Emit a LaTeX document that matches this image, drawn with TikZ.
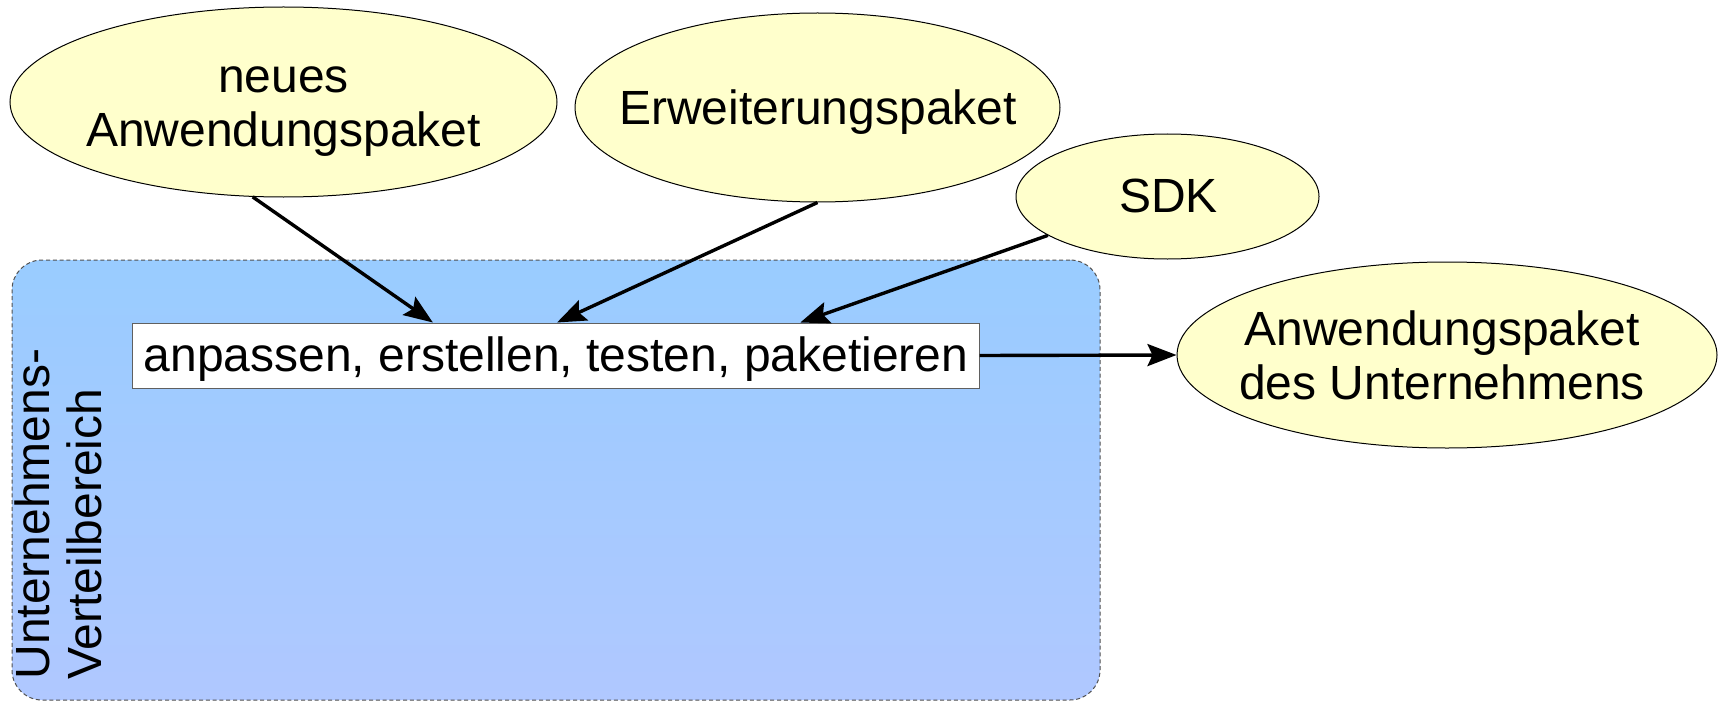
\documentclass[tikz,border=0pt]{standalone}
\usepackage{fontspec}
\setmainfont{Liberation Sans}
\usetikzlibrary{shapes.geometric,arrows.meta,calc}

\definecolor{ovalfill}{HTML}{FFFFCC}
\definecolor{zonetop}{HTML}{99CCFF}
\definecolor{zonebottom}{HTML}{B0C8FF}
\definecolor{zoneline}{HTML}{505050}
\definecolor{boxline}{HTML}{606060}

\tikzset{
  oval/.style={ellipse, draw=black, line width=0.5pt, fill=ovalfill, inner sep=0pt},
  lbl/.style={inner sep=0pt, align=center},
  flow/.style={line width=1.7pt, -{Stealth[length=14.5pt,width=11pt,inset=2.5pt]}},
  taskbox/.style={rectangle, draw=boxline, line width=0.5pt, fill=white, inner sep=0pt},
  zone/.style={rectangle, rounded corners=15pt, draw=zoneline, line width=0.5pt,
    dash pattern=on 2pt off 1.4pt, top color=zonetop, bottom color=zonebottom, inner sep=0pt},
}

\begin{document}
\begin{tikzpicture}[x=0.5pt,y=-0.5pt,font=\fontsize{24pt}{27pt}\selectfont]
\useasboundingbox (0,0) rectangle (1718,701);

% distribution area
\node[zone, minimum width=544pt, minimum height=220pt] (zone) at (556,480) {};
\node[lbl, rotate=90, anchor=north west, align=left,
      font=\fontsize{24pt}{26pt}\selectfont] (zonelabel) at (14,680)
      {Unternehmens-\\Verteilbereich};

% input packages
\node[oval, minimum width=273.5pt, minimum height=95pt] (e1) at (283.5,102) {};
\node[lbl] (e1text) at (283.5,112) {neues\\Anwendungspaket};

\node[oval, minimum width=242.5pt, minimum height=94.5pt] (e2) at (817.5,107.5) {};
\node[lbl, anchor=base] (e2text) at (818,125) {Erweiterungspaket};

\node[oval, minimum width=151.5pt, minimum height=62.5pt] (sdk) at (1167.5,196.5) {};
\node[lbl, anchor=base] (sdktext) at (1168.5,213) {SDK};

% result package
\node[oval, minimum width=270pt, minimum height=93pt] (e4) at (1447,355) {};
\node[lbl] (e4text) at (1442,355) {Anwendungspaket\\des Unternehmens};

% work step
\node[taskbox, minimum width=423.5pt, minimum height=32.5pt] (task) at (555.5,355.5) {};
\node[lbl, anchor=base] (tasktext) at (556,371) {anpassen, erstellen, testen, paketieren};

% connectors
\draw[flow] (e1.252) -- ($(task.north west)!0.3554!(task.north east)$);
\draw[flow] (e2.south) -- ($(task.north west)!0.5018!(task.north east)$);
\draw[flow] (sdk.198) -- ($(task.north west)!0.7887!(task.north east)$);
\draw[flow] (task.east) -- (e4.west);
\end{tikzpicture}
\end{document}
